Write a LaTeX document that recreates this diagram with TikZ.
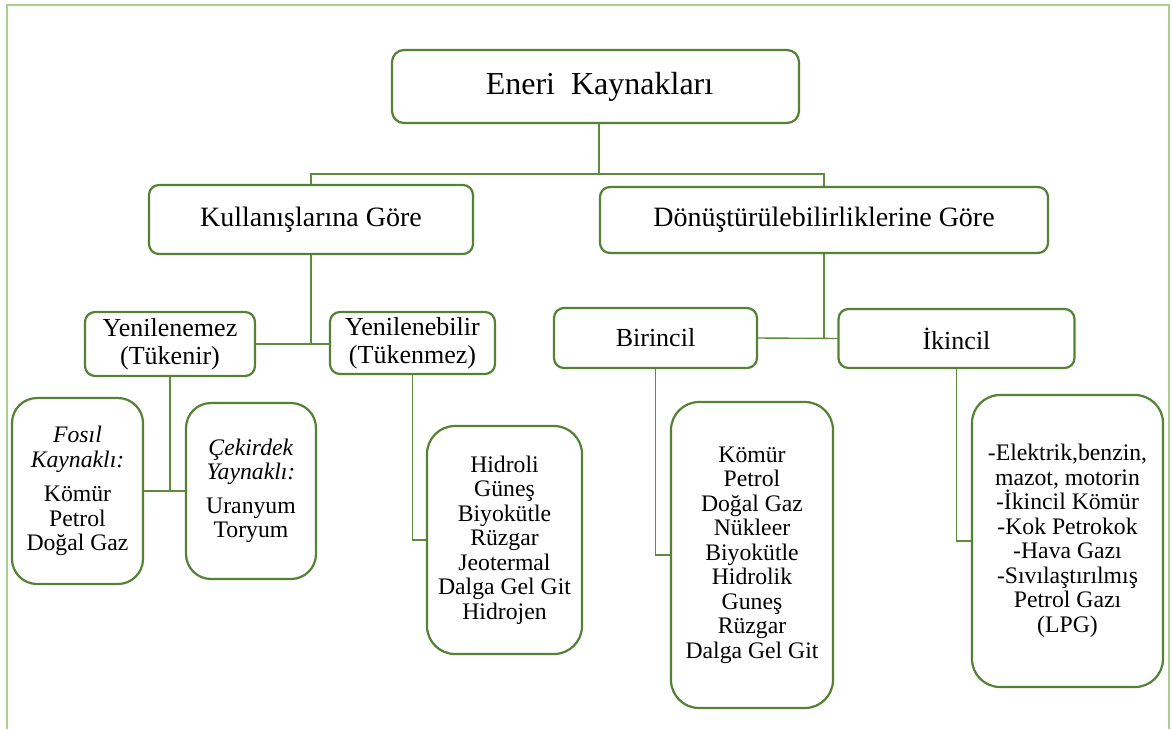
\documentclass[tikz,border=0pt]{standalone}
\usepackage{fontspec}
\setmainfont{Liberation Serif}
\definecolor{boxgreen}{RGB}{84,130,53}
\definecolor{linkgreen}{RGB}{92,140,60}
\definecolor{framegreen}{RGB}{169,209,142}
\begin{document}
\begin{tikzpicture}[x=1pt,y=-1pt,
  box/.style={draw=boxgreen, line width=2.2pt, fill=white, rounded corners=10pt,
    align=center, inner sep=0pt, font=\fontsize{26}{28}\selectfont},
  listbox/.style={box, rounded corners=28pt, font=\fontsize{23.7}{24.5}\selectfont},
  link/.style={draw=linkgreen, line width=1.4pt}]
\useasboundingbox (0,0) rectangle (1171,729);

% page frame (open at the bottom)
\draw[framegreen, line width=2.5pt] (7,729) -- (7,5) -- (1169,5) -- (1169,729);

% level 0
\node[box, minimum width=407pt, minimum height=73pt, rounded corners=12pt,
  font=\fontsize{32}{34}\selectfont] (root) at (595.5,86.5) {\hspace*{8pt}Eneri\ \ Kaynakları};

% level 1
\node[box, minimum width=324pt, minimum height=69pt, font=\fontsize{28}{30}\selectfont]
  (kul) at (311,219.5) {Kullanışlarına Göre};
\node[box, minimum width=448pt, minimum height=66pt, font=\fontsize{28}{30}\selectfont]
  (don) at (824,220) {Dönüştürülebilirliklerine Göre};

% level 2
\node[box, minimum width=170pt, minimum height=64pt] (yenz) at (170,344) {Yenilenemez\\(Tükenir)};
\node[box, minimum width=165pt, minimum height=62pt] (yenb) at (412.5,343) {Yenilenebilir\\(Tükenmez)};
\node[box, minimum width=203pt, minimum height=60pt] (bir) at (655.5,338) {Birincil};
\node[box, minimum width=236pt, minimum height=59pt] (iki) at (956.5,338.5) {İkincil};

% level 3
\node[listbox, rounded corners=25pt, minimum width=131pt, minimum height=186pt] (fosil) at (77.5,491)
  {\textit{Fosıl}\\\textit{Kaynaklı:}\\[10pt]Kömür\\Petrol\\Doğal Gaz};
\node[listbox, rounded corners=25pt, minimum width=130pt, minimum height=176pt] (cekir) at (251,491)
  {\textit{Çekirdek}\\\textit{Yaynaklı:}\\[9pt]Uranyum\\Toryum};
\node[listbox, minimum width=155pt, minimum height=228pt] (hidr) at (504.5,540)
  {Hidroli\\Güneş\\Biyokütle\\Rüzgar\\Jeotermal\\Dalga Gel Git\\Hidrojen};
\node[listbox, minimum width=162pt, minimum height=306pt] (birl) at (752,555)
  {Kömür\\Petrol\\Doğal Gaz\\Nükleer\\Biyokütle\\Hidrolik\\Guneş\\Rüzgar\\Dalga Gel Git};
\node[listbox, minimum width=191pt, minimum height=292pt] (ikil) at (1067.5,541)
  {-Elektrik,benzin,\\mazot, motorin\\-İkincil Kömür\\-Kok Petrokok\\-Hava Gazı\\-Sıvılaştırılmış\\Petrol Gazı\\(LPG)};

% connectors
\coordinate (j0) at (599,174);
\draw[link] (j0 |- root.south) -- (j0);
\draw[link] (kul.north) |- (don.north |- j0) -- (don.north);

\draw[link] (kul.south) -- (kul.south |- yenz.east);
\draw[link] (yenz.east) -- (yenz.east -| yenb.west);

\draw[link] (yenz.south) -- (yenz.south |- fosil.east);
\draw[link] (fosil.east) -- (cekir.west);

\draw[link] (yenb.south) |- (hidr.west);

\draw[link] (don.south) -- (don.south |- bir.east);
\draw[link] (bir.east) -- (iki.west);

\draw[link] (bir.south) |- (birl.west);
\draw[link] (iki.south) |- (ikil.west);
\end{tikzpicture}
\end{document}
